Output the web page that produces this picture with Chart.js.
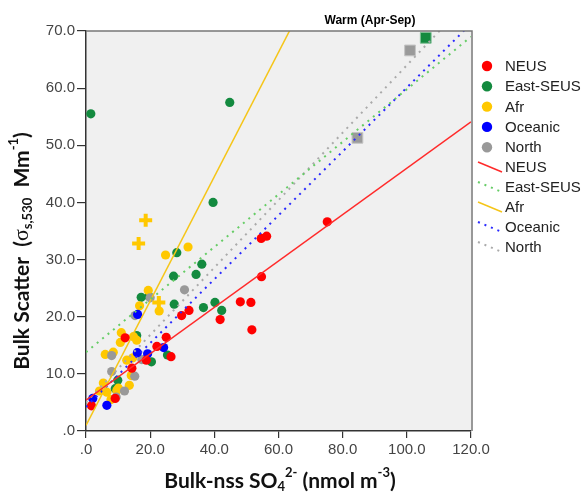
<!DOCTYPE html>
<html>
<head>
<meta charset="utf-8">
<script src="https://cdn.jsdelivr.net/npm/chart.js@4"></script>
<style>
  html, body { margin: 0; padding: 0; background: #fff; }
  #wrap { width: 585px; height: 494px; }
</style>
</head>
<body>
<div id="wrap"><canvas id="chart" width="585" height="494"></canvas></div>
<script>
// Values
const neusX = [75.2, 54.6, 56.3, 54.7, 48.1, 51.4, 51.7, 41.8, 32.1, 29.8, 25.0, 22.1, 26.5, 18.8, 14.3, 12.2, 9.1, 1.7];
const neusY = [36.6, 33.7, 34.1, 27.0, 22.6, 22.5, 17.7, 19.5, 21.1, 20.2, 16.4, 14.8, 13.0, 12.4, 11.0, 16.3, 5.7, 4.4];

const eastX = [1.5, 44.8, 39.6, 28.3, 36.1, 27.3, 34.3, 17.2, 19.6, 27.5, 36.6, 40.2, 42.3, 15.8, 20.4, 25.4, 9.9, 9.1];
const eastY = [55.5, 57.5, 40.0, 31.2, 29.2, 27.1, 27.4, 23.4, 23.6, 22.2, 21.6, 22.5, 21.1, 16.7, 12.1, 13.3, 8.9, 7.4];

const afrX = [31.8, 24.8, 19.4, 16.7, 22.8, 11.0, 10.7, 14.8, 15.8, 6.0, 8.5, 12.7, 14.6, 14.1, 13.5, 5.4, 4.2, 6.5, 10.1, 9.6, 7.8];
const afrY = [32.2, 30.8, 24.6, 21.9, 21.0, 17.2, 15.5, 16.5, 15.9, 13.4, 13.8, 12.4, 12.8, 9.7, 8.0, 8.4, 7.0, 6.8, 7.5, 7.1, 5.5];

const oceanX = [16.1, 16.0, 19.2, 24.2, 2.1, 6.5];
const oceanY = [20.4, 13.7, 13.5, 14.6, 5.7, 4.5];

const northX = [30.7, 20.0, 15.3, 8.0, 8.0, 17.4, 15.2, 12.0, 9.4];
const northY = [24.7, 23.3, 20.2, 13.2, 10.4, 12.5, 9.6, 7.0, 5.95];

// special markers
const afrCrossX = [18.6, 16.4, 22.7];
const afrCrossY = [36.9, 32.8, 22.5];
const northSqX = [84.6, 101.0];
const northSqY = [51.3, 66.6];
const eastSqX = [105.9];
const eastSqY = [68.8];

// fit lines
const fitNames = ['NEUS', 'East-SEUS', 'Afr', 'Oceanic', 'North'];
const fitIntercept = [5.4, 13.8, 1.0, 4.2, 5.0];
const fitSlope = [0.406, 0.46, 1.088, 0.559, 0.59];

const xTicks = [0, 20, 40, 60, 80, 100, 120];
const yTicks = [0, 10, 20, 30, 40, 50, 60, 70];

const groupColors = ['#ff0000', '#138a3f', '#ffc800', '#0000ff', '#999999'];
const lineColors = ['#ff2a2a', '#66cc66', '#f5c518', '#2a2aff', '#aaaaaa'];
const lineDash = [[], [2, 5], [], [2, 5], [2, 5]];

function pts(xs, ys) {
  return xs.map((x, i) => ({ x: x, y: ys[i] }));
}

const xMin = xTicks[0], xMax = xTicks[xTicks.length - 1];

const lineSets = fitNames.map((n, i) => ({
  type: 'line',
  label: n + ' fit',
  data: [{ x: xMin, y: fitIntercept[i] + fitSlope[i] * xMin },
         { x: xMax, y: fitIntercept[i] + fitSlope[i] * xMax }],
  borderColor: lineColors[i],
  borderWidth: i === 0 || i === 2 ? 1.5 : 2,
  borderDash: lineDash[i],
  pointRadius: 0,
  fill: false
}));

function dots(label, xs, ys, color) {
  return {
    label: label,
    data: pts(xs, ys),
    backgroundColor: color,
    borderWidth: 0,
    pointRadius: 4.6,
    pointStyle: 'circle'
  };
}

const datasets = lineSets.concat([
  {
    label: 'Afr mean',
    data: pts(afrCrossX, afrCrossY),
    pointStyle: 'cross',
    pointRadius: 6.5,
    borderColor: groupColors[2],
    borderWidth: 4
  },
  {
    label: 'North mean',
    data: pts(northSqX, northSqY),
    pointStyle: 'rect',
    pointRadius: 7.6,
    backgroundColor: '#9a9a9a',
    borderColor: '#c4c4c4',
    borderWidth: 1
  },
  {
    label: 'East-SEUS mean',
    data: pts(eastSqX, eastSqY),
    pointStyle: 'rect',
    pointRadius: 7.6,
    backgroundColor: groupColors[1],
    borderColor: '#7fbf95',
    borderWidth: 1
  },
  dots('NEUS', neusX, neusY, groupColors[0]),
  dots('Oceanic', oceanX, oceanY, groupColors[3]),
  dots('North', northX, northY, groupColors[4]),
  dots('Afr', afrX, afrY, groupColors[2]),
  dots('East-SEUS', eastX, eastY, groupColors[1])
]);

// draw a run of text pieces (sub/superscripts) centred on 0,0
function drawRuns(ctx, runs) {
  let total = 0;
  runs.forEach(r => { ctx.font = r.font; r.w = ctx.measureText(r.t).width; total += r.w; });
  let x = -total / 2;
  ctx.textBaseline = 'middle';
  ctx.textAlign = 'left';
  runs.forEach(r => {
    ctx.font = r.font;
    ctx.fillText(r.t, x, r.dy || 0);
    x += r.w;
  });
}

const B = 'bold 21px Lato, "Open Sans", sans-serif';
const BS = 'bold 13px Lato, "Open Sans", sans-serif';

const decor = {
  id: 'decor',
  beforeDraw(chart) {
    const { ctx, chartArea: a } = chart;
    ctx.save();
    ctx.fillStyle = '#ffffff';
    ctx.fillRect(0, 0, chart.width, chart.height);
    ctx.fillStyle = '#f0f0f0';
    ctx.fillRect(a.left, a.top, a.right - a.left, a.bottom - a.top);
    ctx.restore();
  },
  afterDraw(chart) {
    const { ctx, chartArea: a } = chart;
    ctx.save();
    // frame top / right
    ctx.strokeStyle = '#777';
    ctx.lineWidth = 1.5;
    ctx.beginPath();
    ctx.moveTo(a.left, a.top);
    ctx.lineTo(a.right + 1, a.top);
    ctx.lineTo(a.right + 1, a.bottom);
    ctx.stroke();

    // title
    ctx.fillStyle = '#000';
    ctx.font = 'bold 12px "Liberation Sans", Arial, sans-serif';
    ctx.textAlign = 'center';
    ctx.textBaseline = 'middle';
    ctx.fillText('Warm (Apr-Sep)', 370, 21);

    // x axis title
    ctx.fillStyle = '#111';
    ctx.translate(280, 481);
    drawRuns(ctx, [
      { t: 'Bulk-nss SO', font: B },
      { t: '4', font: BS, dy: 6 },
      { t: '2-', font: BS, dy: -8 },
      { t: ' (nmol m', font: B },
      { t: '-3', font: BS, dy: -8 },
      { t: ')', font: B }
    ]);
    ctx.setTransform(1, 0, 0, 1, 0, 0);

    // y axis title
    ctx.translate(22, 251);
    ctx.rotate(-Math.PI / 2);
    drawRuns(ctx, [
      { t: 'Bulk Scatter  (', font: B },
      { t: 'σ', font: '22px "Liberation Serif", serif' },
      { t: 's,530', font: BS, dy: 6 },
      { t: '  Mm', font: B },
      { t: '-1', font: BS, dy: -8 },
      { t: ')', font: B }
    ]);
    ctx.setTransform(1, 0, 0, 1, 0, 0);

    // legend
    ctx.font = '15px "Liberation Sans", Arial, sans-serif';
    ctx.textAlign = 'left';
    ctx.textBaseline = 'middle';
    fitNames.forEach((n, i) => {
      const y = 66 + i * 20.3;
      ctx.fillStyle = groupColors[i];
      ctx.beginPath();
      ctx.arc(487, y, 5.2, 0, Math.PI * 2);
      ctx.fill();
      ctx.fillStyle = '#222';
      ctx.fillText(n, 505, y + 1);
    });
    fitNames.forEach((n, i) => {
      const y = 167 + i * 20;
      ctx.strokeStyle = lineColors[i];
      ctx.lineWidth = i === 0 || i === 2 ? 1.5 : 2;
      ctx.setLineDash(lineDash[i]);
      ctx.beginPath();
      ctx.moveTo(478, y - 5);
      ctx.lineTo(502, y + 5);
      ctx.stroke();
      ctx.setLineDash([]);
      ctx.fillStyle = '#222';
      ctx.fillText(n, 505, y + 1);
    });
    ctx.restore();
  }
};

function fmt(v) {
  return v === 0 ? '.0' : v.toFixed(1);
}

new Chart(document.getElementById('chart'), {
  type: 'scatter',
  data: { datasets: datasets },
  options: {
    responsive: false,
    animation: false,
    events: [],
    layout: { padding: { left: 0, top: 31, right: 114, bottom: 0 } },
    plugins: { legend: { display: false }, tooltip: { enabled: false } },
    scales: {
      x: {
        type: 'linear',
        min: xMin,
        max: xMax,
        afterBuildTicks: s => { s.ticks = xTicks.map(v => ({ value: v })); },
        afterFit: s => { s.height = 63; },
        ticks: {
          callback: fmt,
          color: '#444',
          padding: 3,
          font: { size: 15, family: '"Liberation Sans", Arial, sans-serif' },
          maxRotation: 0
        },
        grid: { drawOnChartArea: false, drawTicks: true, tickLength: 7, color: '#333', lineWidth: 1.2 },
        border: { display: true, color: '#333', width: 1.5 }
      },
      y: {
        type: 'linear',
        min: yTicks[0],
        max: yTicks[yTicks.length - 1],
        afterBuildTicks: s => { s.ticks = yTicks.map(v => ({ value: v })); },
        afterFit: s => { s.width = 86; },
        ticks: {
          callback: fmt,
          color: '#444',
          padding: 2,
          font: { size: 15, family: '"Liberation Sans", Arial, sans-serif' }
        },
        grid: { drawOnChartArea: false, drawTicks: true, tickLength: 9, color: '#333', lineWidth: 1.2 },
        border: { display: true, color: '#333', width: 1.5 }
      }
    }
  },
  plugins: [decor]
});
</script>
</body>
</html>
